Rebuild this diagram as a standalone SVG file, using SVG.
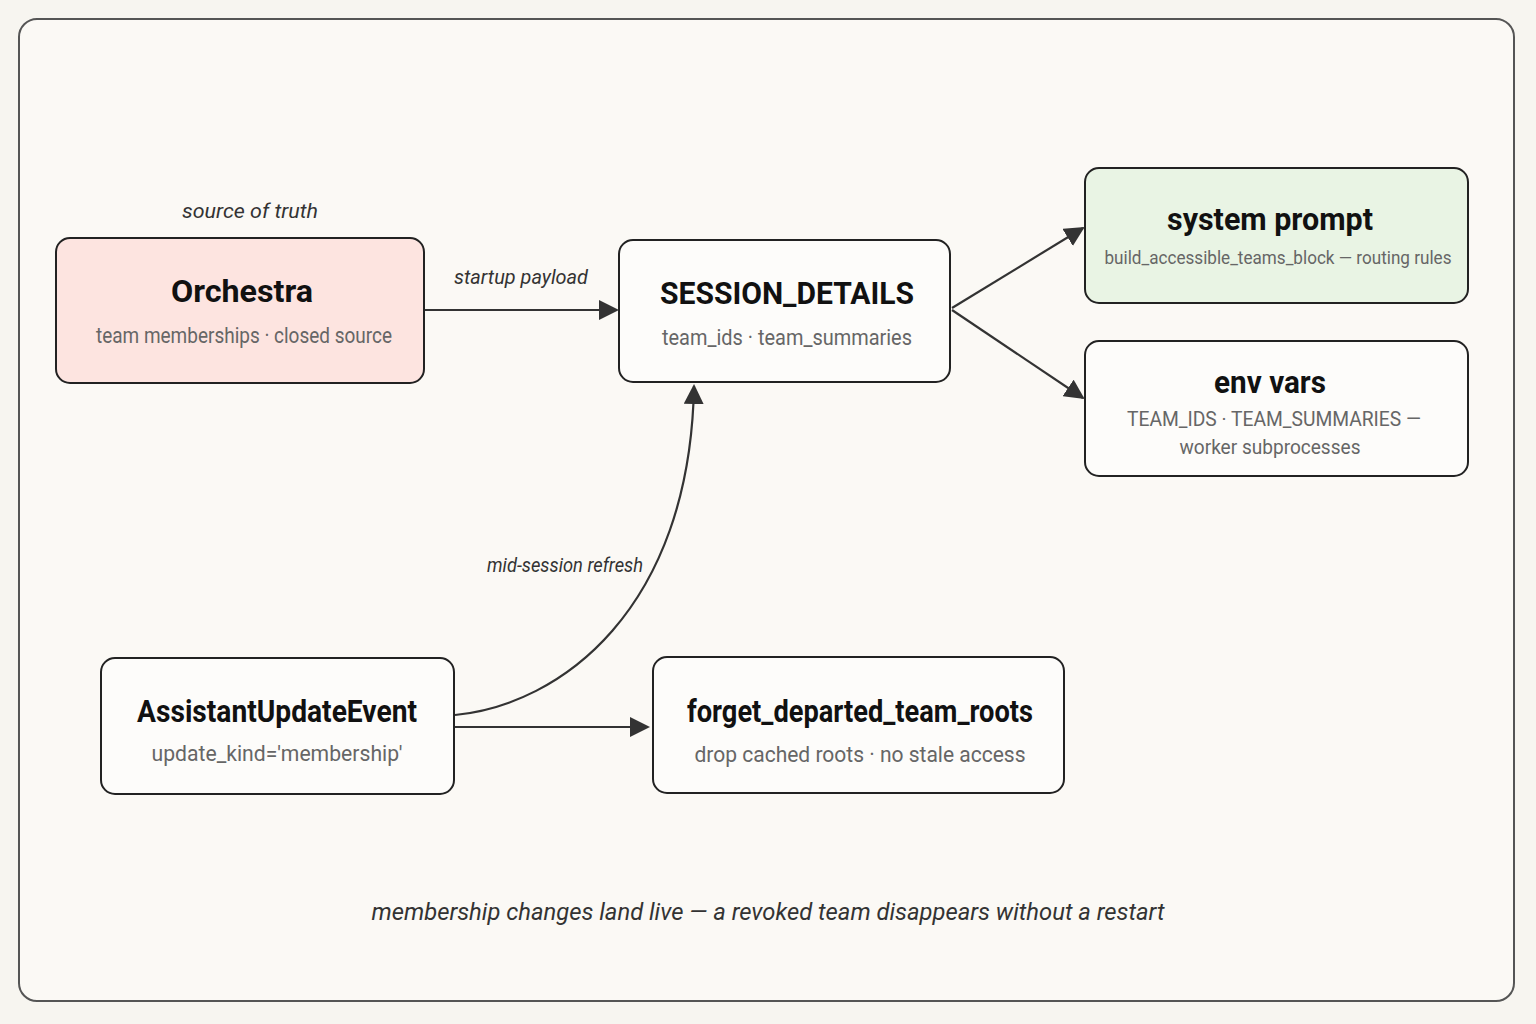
<svg xmlns="http://www.w3.org/2000/svg" width="1536" height="1024" viewBox="0 0 1536 1024">
<defs>
<marker id="ah" viewBox="0 0 10 10" refX="9" refY="5" markerWidth="20" markerHeight="20" markerUnits="userSpaceOnUse" orient="auto">
<path d="M0,0 L10,5 L0,10 z" fill="#333"/>
</marker>
<style>
.node{stroke:#222;stroke-width:2;}
.t{font-family:Roboto,"Liberation Sans",sans-serif;font-weight:bold;fill:#111;text-anchor:middle;dominant-baseline:central;}
.s{font-family:Roboto,"Liberation Sans",sans-serif;fill:#666;text-anchor:middle;dominant-baseline:central;}
.l{font-family:Roboto,"Liberation Sans",sans-serif;font-style:italic;fill:#333;text-anchor:middle;dominant-baseline:central;}
.c{fill:none;stroke:#333;stroke-width:2.2;}
</style>
</defs>
<rect x="0" y="0" width="1536" height="1024" fill="#f7f5f0"/>
<rect x="19" y="19" width="1495" height="982" rx="18" fill="#fbf9f5" stroke="#555" stroke-width="2"/>
<text class="l" x="250" y="211" font-size="21" textLength="136" lengthAdjust="spacingAndGlyphs">source of truth</text>
<g id="orchestra">
<rect class="node" x="56" y="238" width="368" height="145" rx="14" fill="#fde4e0"/>
<text class="t" x="242" y="291" font-size="32" textLength="142" lengthAdjust="spacingAndGlyphs">Orchestra</text>
<text class="s" x="244" y="335" font-size="22" textLength="296" lengthAdjust="spacingAndGlyphs">team memberships · closed source</text>
</g>
<g id="session_details">
<rect class="node" x="619" y="240" width="331" height="142" rx="14" fill="#fdfcfa"/>
<text class="t" x="787" y="293" font-size="32" textLength="254" lengthAdjust="spacingAndGlyphs">SESSION_DETAILS</text>
<text class="s" x="787" y="337" font-size="22" textLength="250" lengthAdjust="spacingAndGlyphs">team_ids · team_summaries</text>
</g>
<g id="system_prompt">
<rect class="node" x="1085" y="168" width="383" height="135" rx="14" fill="#e9f4e4"/>
<text class="t" x="1270" y="219" font-size="31" textLength="206" lengthAdjust="spacingAndGlyphs">system prompt</text>
<text class="s" x="1278" y="257" font-size="19" textLength="347" lengthAdjust="spacingAndGlyphs">build_accessible_teams_block — routing rules</text>
</g>
<g id="env_vars">
<rect class="node" x="1085" y="341" width="383" height="135" rx="14" fill="#fdfcfa"/>
<text class="t" x="1270" y="382" font-size="31" textLength="112" lengthAdjust="spacingAndGlyphs">env vars</text>
<text class="s" x="1274" y="419" font-size="21" textLength="294" lengthAdjust="spacingAndGlyphs">TEAM_IDS · TEAM_SUMMARIES —</text>
<text class="s" x="1270" y="447" font-size="21" textLength="181" lengthAdjust="spacingAndGlyphs">worker subprocesses</text>
</g>
<g id="assistant_update_event">
<rect class="node" x="101" y="658" width="353" height="136" rx="14" fill="#fdfcfa"/>
<text class="t" x="277" y="711" font-size="31" textLength="280" lengthAdjust="spacingAndGlyphs">AssistantUpdateEvent</text>
<text class="s" x="277" y="753" font-size="22" textLength="251" lengthAdjust="spacingAndGlyphs">update_kind='membership'</text>
</g>
<g id="forget_departed_team_roots">
<rect class="node" x="653" y="657" width="411" height="136" rx="14" fill="#fdfcfa"/>
<text class="t" x="860" y="711" font-size="31" textLength="346" lengthAdjust="spacingAndGlyphs">forget_departed_team_roots</text>
<text class="s" x="860" y="754" font-size="22" textLength="331" lengthAdjust="spacingAndGlyphs">drop cached roots · no stale access</text>
</g>
<g id="connectors">
<path class="c" d="M425,310 L617,310" marker-end="url(#ah)"/>
<text class="l" x="521" y="277" font-size="21" textLength="134" lengthAdjust="spacingAndGlyphs">startup payload</text>
<path class="c" d="M952,308 L1083,228" marker-end="url(#ah)"/>
<path class="c" d="M952,310 L1083,398" marker-end="url(#ah)"/>
<path class="c" d="M455,715 C560,705 690,610 694,386" marker-end="url(#ah)"/>
<text class="l" x="565" y="565" font-size="20" textLength="156" lengthAdjust="spacingAndGlyphs">mid-session refresh</text>
<path class="c" d="M455,727 L648,727" marker-end="url(#ah)"/>
</g>
<text class="l" x="768" y="912" font-size="23" textLength="793" lengthAdjust="spacingAndGlyphs">membership changes land live — a revoked team disappears without a restart</text>
</svg>
